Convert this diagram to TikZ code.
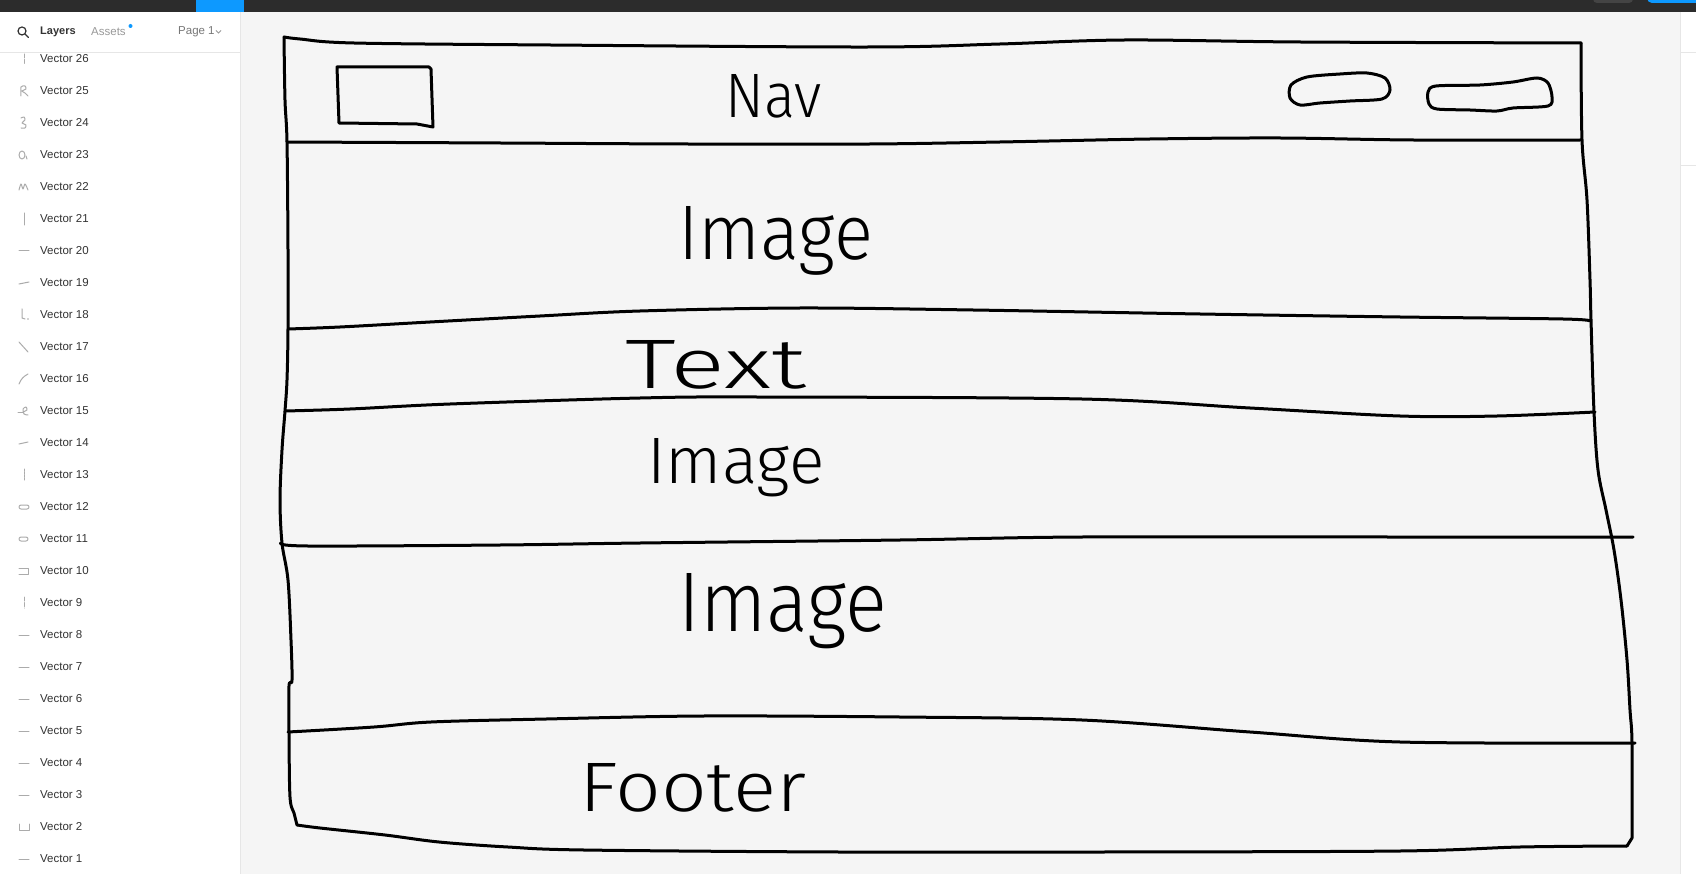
\documentclass[tikz,border=0pt]{standalone}
\usepackage{fontspec}
\usepackage{graphicx}
\setmainfont{Liberation Sans}
\newfontfamily\hand{Fira Sans Light}
\definecolor{topbar}{HTML}{2C2C2C}
\definecolor{darkpill}{HTML}{444444}
\definecolor{figblue}{HTML}{0D99FF}
\definecolor{canvasbg}{HTML}{F5F5F5}
\definecolor{panelline}{HTML}{E6E6E6}
\definecolor{uitext}{HTML}{333333}
\definecolor{uigrey}{HTML}{999999}
\definecolor{uimid}{HTML}{777777}
\definecolor{icongrey}{HTML}{ABABAB}
\begin{document}
\begin{tikzpicture}[x=1pt,y=-1pt,
  sketch/.style={line width=3pt, line cap=round, line join=round, draw=black},
  layer/.style={anchor=west, inner sep=0pt, font=\fontsize{11.5}{13}\selectfont, text=uitext},
  icon/.style={draw=icongrey, line width=1pt, line cap=round, line join=round},
  handlabel/.style={anchor=base west, inner sep=0pt, font=\hand, text=black},
  pline/.style={draw=panelline, line width=1pt}]
\useasboundingbox (0,0) rectangle (1696,874);
\clip (0,0) rectangle (1696,874);
% backgrounds
\fill[canvasbg] (0,0) rectangle (1696,874);
\fill[white] (0,12) rectangle (240,874);
\fill[white] (1680,12) rectangle (1696,874);
\fill[topbar] (0,0) rectangle (1696,12);
\fill[figblue] (196,0) rectangle (244,12);
\fill[darkpill, rounded corners=4pt] (1593,-8) rectangle (1633,3);
\fill[figblue, rounded corners=5pt] (1647,-8) rectangle (1712,3);
% panel borders
\draw[pline] (240.5,12) -- (240.5,874);
\draw[pline] (0,52.5) -- (240,52.5);
\draw[pline] (1680.5,12) -- (1680.5,874);
\draw[pline] (1680,52.5) -- (1696,52.5);
\draw[pline] (1680,165.5) -- (1696,165.5);
% header of layers panel
\draw[uitext, line width=1.2pt] (22,31) circle (4);
\draw[uitext, line width=1.4pt, line cap=round] (25,34) -- (28.5,37.5);
\node[layer, font=\fontsize{11}{13}\selectfont\bfseries] (layers) at (40,32) {Layers};
\node[layer, text=uigrey] (assets) at (91,32) {Assets};
\fill[figblue] (130.5,26) circle (2);
\node[layer, text=uimid] (page) at (178,32) {Page 1};
\draw[uigrey, line width=0.8pt] (216,30.5) -- (218.5,33) -- (221,30.5);
% layer rows
\foreach \n in {26,...,1}{
  \node[layer] (v\n) at (40,{59+32*(26-\n)}) {Vector \n};
}
% layer icons
\draw[icon, dash pattern=on 4pt off 1.5pt] (24,54) -- (24,64);
\draw[icon] plot[smooth] coordinates {(21,96) (21,87) (25,86) (26,89) (22,91) (25,93) (28,96)};
\draw[icon] plot[smooth] coordinates {(21,118) (24,117) (25,120) (22,123) (26,125) (25,128) (21,128)};
\draw[icon] (22,155) ellipse (3 and 4);
\draw[icon] (26,156) -- (27,159);
\draw[icon] plot[smooth] coordinates {(19,190) (21,184) (23,189) (25,184) (28,190)};
\draw[icon] (24,213) -- (24,225);
\draw[icon] (19,251) -- (29,251);
\draw[icon] (19,284) -- (29,282);
\draw[icon] (22,309) -- (22,318) -- (25,319);
\fill[icongrey] (28,319) circle (0.8);
\draw[icon] (19,342) -- (28,352);
\draw[icon] (19,384) to[bend left=20] (28,374);
\draw[icon] (18,412) -- (23,412);
\draw[icon] plot[smooth] coordinates {(23,412) (27,410) (26,407) (23,409) (24,414) (28,415)};
\draw[icon] (19,444) -- (28,442);
\draw[icon, dash pattern=on 2pt off 1pt] (24,469) -- (24,481);
\draw[icon, rounded corners=2pt] (19,505) rectangle (29,509);
\draw[icon, rounded corners=2pt] (19,537) rectangle (28,541);
\draw[icon] (19,568) -- (28,568) -- (28,574) -- (19,574);
\draw[icon, dash pattern=on 4pt off 1.5pt] (24,597) -- (24,608);
\foreach \yy in {635,667,699,731,763,795,859}{
  \draw[icon] (19,\yy) -- (29,\yy);
}
\draw[icon] (19,824) -- (19,830) -- (29,830) -- (29,824);
% ---------- sketch: outer frame ----------
\draw[sketch] plot[smooth, tension=0.55] coordinates {(284,37) (300,39) (354,43) (550,45) (870,47) (1000,44) (1125,40) (1300,42) (1581,43)};
\draw[sketch] plot[smooth, tension=0.55] coordinates {(1581,43) (1582,140) (1587,200) (1590,280) (1591,320) (1594,412) (1598,470) (1606,510) (1614,550) (1621,600) (1627,660) (1630,710) (1632,743) (1632,838)} -- (1627,846);
\draw[sketch] plot[smooth, tension=0.55] coordinates {(297,825) (320,828) (385,835) (439,842) (508,847) (584,850) (840,852) (1100,852) (1400,851) (1520,847) (1627,846)};
\draw[sketch] plot[smooth, tension=0.55] coordinates {(284,37) (285,100) (287,142) (288,250) (288,329) (287,380) (285,411) (282,450) (280,500) (282,543) (288,580) (291,640) (292,680) (289,686) (289,732) (290,797) (294,813) (297,825)};
% ---------- dividers ----------
\draw[sketch] plot[smooth, tension=0.55] coordinates {(287,142) (500,143) (687,144) (870,144) (1000,142) (1150,139) (1280,138) (1413,140) (1581,140)};
\draw[sketch] plot[smooth, tension=0.55] coordinates {(288,329) (340,327) (430,322) (540,316) (640,311) (800,308) (973,310) (1200,314) (1400,317) (1563,319) (1590,321)};
\draw[sketch] plot[smooth, tension=0.55] coordinates {(285,411) (350,409) (450,404) (640,398) (757,397) (1082,399) (1250,408) (1400,416) (1497,416) (1595,412)};
\draw[sketch] plot[smooth, tension=0.55] coordinates {(281,543) (308,546) (500,545) (640,543) (900,540) (1082,537) (1400,537) (1633,537)};
\draw[sketch] plot[smooth, tension=0.55] coordinates {(288,732) (374,727) (431,722) (546,719) (703,716) (900,717) (1082,720) (1250,732) (1400,742) (1635,743)};
% ---------- nav elements ----------
\draw[sketch] (337,67) -- (429,67) -- (431,69) -- (433,127) -- (417,124) -- (339,123) -- cycle;
\draw[sketch] plot[smooth cycle, tension=0.5] coordinates {(1291,85) (1307,77) (1340,74) (1367,73) (1385,78) (1390,90) (1382,99) (1350,101) (1320,103) (1300,105) (1290,98)};
\draw[sketch] plot[smooth cycle, tension=0.5] coordinates {(1428,92) (1436,86) (1480,85) (1513,82) (1537,78) (1548,83) (1552,97) (1548,106) (1513,108) (1497,111) (1470,110) (1437,109) (1429,104)};
% ---------- handwritten labels ----------
\node[handlabel] (nav) at (725,118) {\resizebox{96pt}{43pt}{Nav}};
\node[handlabel] (img1) at (678,260) {\resizebox{195pt}{53pt}{Image}};
\node[handlabel] (txt) at (625,388) {\resizebox{181pt}{48pt}{Text}};
\node[handlabel] (img2) at (647,483) {\resizebox{177pt}{45pt}{Image}};
\node[handlabel] (img3) at (678,631) {\resizebox{209pt}{58pt}{Image}};
\node[handlabel] (footer) at (579,811) {\resizebox{227pt}{48pt}{Footer}};
\end{tikzpicture}
\end{document}
